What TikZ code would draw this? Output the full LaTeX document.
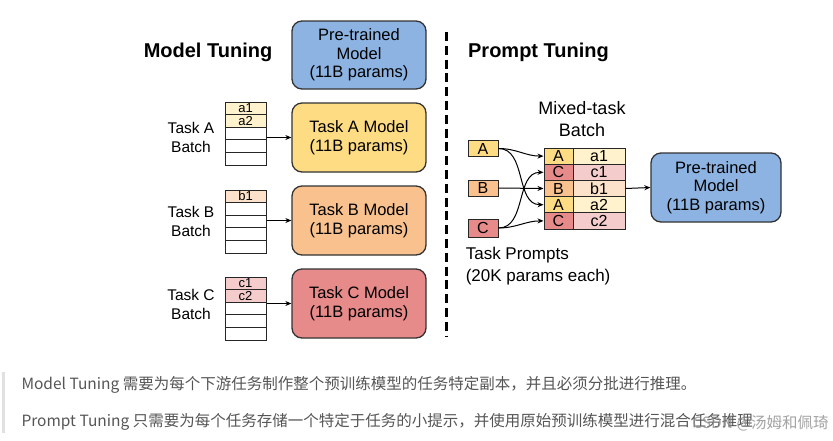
\documentclass[tikz,border=0pt]{standalone}
\usepackage{fontspec}
\setmainfont{Liberation Sans}
\newfontfamily\cjkfont{Noto Sans CJK SC}
\usetikzlibrary{arrows.meta, positioning}
\definecolor{pblue}{HTML}{8DB3E2}
\definecolor{pyellow}{HTML}{FDDC84}
\definecolor{porange}{HTML}{F8C18E}
\definecolor{pred}{HTML}{E68A8A}
\definecolor{lyellow}{HTML}{FFF2CC}
\definecolor{lorange}{HTML}{FCE2CA}
\definecolor{lred}{HTML}{F4CCCC}
\definecolor{notegray}{HTML}{555555}
\tikzstyle{line} = [draw, -{Stealth[length=6pt, width=5pt]}]

\begin{document}
\begin{tikzpicture}[x=1pt, y=-1pt, line width=1pt, node distance=0pt]
  % Define styles
  \tikzstyle{model} = [rectangle, rounded corners=10pt, minimum width=134pt, minimum height=69pt, align=center, draw=black!80, line width=1.3pt, font=\fontsize{16.5}{18.5}\selectfont]
  \tikzstyle{cell} = [rectangle, draw=black!85, minimum width=41pt, minimum height=12.6pt, inner sep=0pt, font=\fontsize{13}{13}\selectfont]
  \tikzstyle{mixcell} = [rectangle, draw=black!85, minimum height=16.2pt, inner sep=0pt, font=\fontsize{16}{16}\selectfont]
  \tikzstyle{prompt} = [rectangle, draw=black!85, minimum width=30pt, minimum height=16pt, inner sep=0pt, font=\fontsize{16}{16}\selectfont]
  \tikzstyle{batchlabel} = [align=center, font=\fontsize{15.5}{19}\selectfont]
  \tikzstyle{title} = [font=\fontsize{20}{20}\selectfont\bfseries]
  \tikzstyle{note} = [anchor=west, inner sep=0pt, text=notegray, font=\cjkfont\fontsize{15.5}{15.5}\selectfont]

  \useasboundingbox (0,0) rectangle (833,440);

  % Model tuning side
  \node [title] (mtTitle) at (208,52) {Model Tuning};
  \node [model, fill=pblue, minimum height=68pt] (preLeft) at (359,55) {Pre-trained\\Model\\(11B params)};
  \node [model, fill=pyellow] (modelA) at (359,137.5) {Task A Model\\(11B params)};
  \node [model, fill=porange] (modelB) at (359,220.5) {Task B Model\\(11B params)};
  \node [model, fill=pred] (modelC) at (359,303.5) {Task C Model\\(11B params)};

  % Batches
  \foreach \i in {1,...,5} {
    \node [cell] (batchA\i) at (245.5,{95.7+12.6*\i}) {};
    \node [cell] (batchB\i) at (245.5,{183.7+12.6*\i}) {};
    \node [cell] (batchC\i) at (245.5,{270.7+12.6*\i}) {};
  }
  \node [cell, fill=lyellow] at (batchA1) {a1};
  \node [cell, fill=lyellow] at (batchA2) {a2};
  \node [cell, fill=lorange] at (batchB1) {b1};
  \node [cell, fill=lred] at (batchC1) {c1};
  \node [cell, fill=lred] at (batchC2) {c2};

  \node [batchlabel] (labelA) at (191,137.5) {Task A\\Batch};
  \node [batchlabel] (labelB) at (191,221.5) {Task B\\Batch};
  \node [batchlabel] (labelC) at (191,304.5) {Task C\\Batch};

  \path [line] (batchA3.east |- modelA.west) -- (modelA.west);
  \path [line] (batchB3.east |- modelB.west) -- (modelB.west);
  \path [line] (batchC3.east |- modelC.west) -- (modelC.west);

  % Separator
  \draw [line width=3pt, dash pattern=on 9pt off 4.8pt] (446,32) -- (446,336);

  % Prompt tuning side
  \node [title] (ptTitle) at (538.5,52) {Prompt Tuning};
  \node [font=\fontsize{18}{22}\selectfont, align=center] (mixLabel) at (582,119) {Mixed-task\\Batch};

  \node [prompt, fill=pyellow] (promptA) at (483,148.5) {A};
  \node [prompt, fill=porange] (promptB) at (483,188) {B};
  \node [prompt, fill=pred, minimum height=18pt] (promptC) at (483,228) {C};
  \node [anchor=west, align=left, font=\fontsize{17}{22}\selectfont] (promptLabel) at (462,266) {Task Prompts\\(20K params each)};

  \foreach \i/\t/\d/\dcol/\lcol in {1/A/a1/pyellow/lyellow, 2/C/c1/pred/lred, 3/B/b1/porange/lorange, 4/A/a2/pyellow/lyellow, 5/C/c2/pred/lred} {
    \node [mixcell, fill=\dcol, minimum width=29pt] (mixL\i) at (558.5,{139.9+16.2*\i}) {\t};
    \node [mixcell, fill=\lcol, minimum width=52pt] (mixR\i) at (599,{139.9+16.2*\i}) {\d};
  }

  \node [model, fill=pblue, minimum width=130pt] (preRight) at (716,187.5) {Pre-trained\\Model\\(11B params)};

  % Draw edges
  \path [line] (promptA.east) to[out=0, in=180] (mixL1.west);
  \path [line] (promptA.east) to[out=0, in=180] (mixL4.west);
  \path [line] (promptB.east) -- (mixL3.west);
  \path [line] (promptC.east) to[out=0, in=180] (mixL2.west);
  \path [line] (promptC.east) to[out=0, in=180] (mixL5.west);
  \path [line] (mixR3.east) -- (preRight.west);

  % Notes below
  \fill [black!12] (2,372) rectangle (5,433);
  \node [note] (noteModel) at (21,385) {Model Tuning 需要为每个下游任务制作整个预训练模型的任务特定副本，并且必须分批进行推理。};
  \node [note] (notePrompt) at (21,422) {Prompt Tuning 只需要为每个任务存储一个特定于任务的小提示，并使用原始预训练模型进行混合任务推理};
  \node [anchor=west, inner sep=0pt, text=black!45, opacity=0.8, font=\cjkfont\fontsize{15.5}{15.5}\selectfont] (mark) at (692,423) {CSDN @汤姆和佩琦};
\end{tikzpicture}
\end{document}
